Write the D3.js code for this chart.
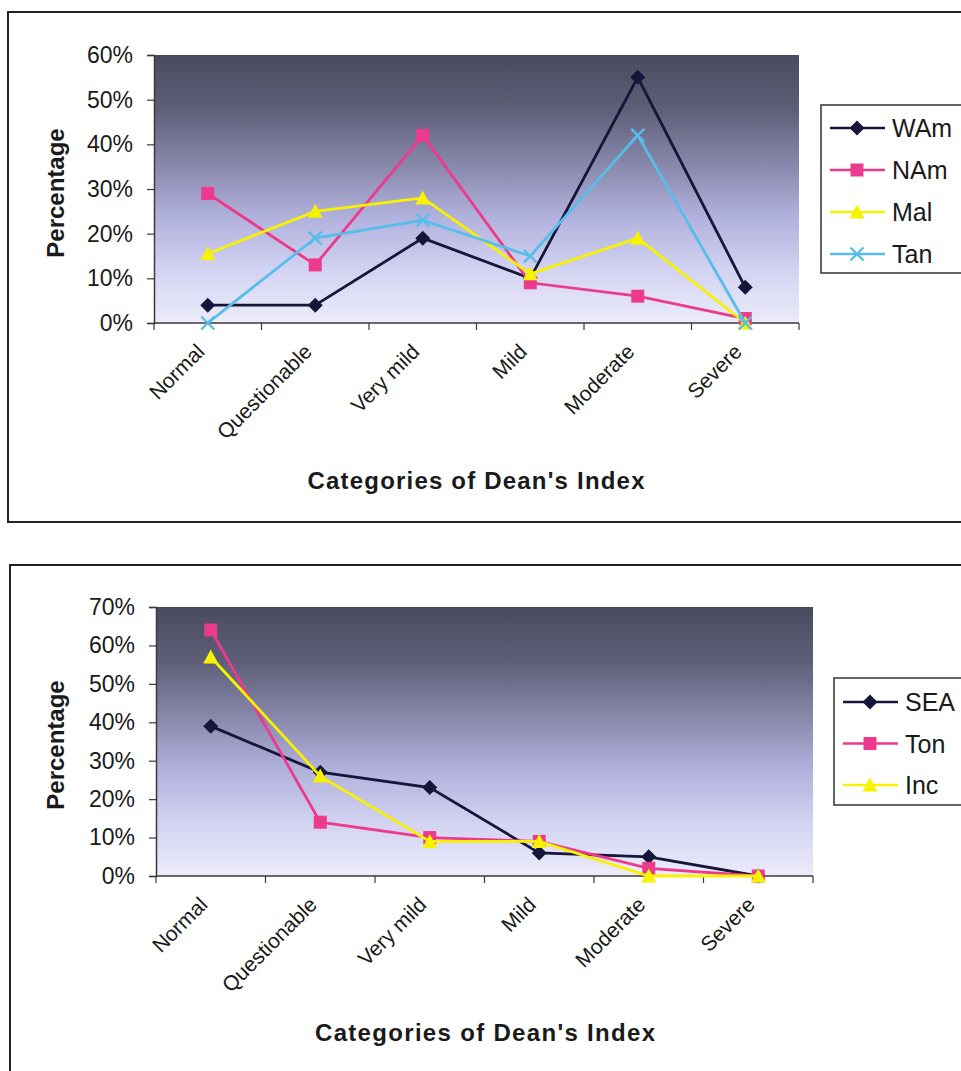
<!DOCTYPE html>
<html>
<head>
<meta charset="utf-8">
<script src="https://cdn.jsdelivr.net/npm/d3@7"></script>
<style>
  html, body { margin: 0; padding: 0; background: #ffffff; }
  svg { display: block; }
  text { font-family: "Liberation Sans", Arial, sans-serif; fill: #1a1a1a; }
</style>
</head>
<body>
<svg id="chart" width="961" height="1071"></svg>
<script>
// Categories of Dean's Index (shared by both panels)
const categories = ["Normal", "Questionable", "Very mild", "Mild", "Moderate", "Severe"];

// Upper panel: percentage of each group per category
const seriesTopNames = ["WAm", "NAm", "Mal", "Tan"];
const wAm = [4, 4, 19, 10, 55, 8];
const nAm = [29, 13, 42, 9, 6, 1];
const mal = [15.5, 25, 28, 11, 19, 0];
const tan = [0, 19, 23, 15, 42, 0];
const topTicks = [0, 10, 20, 30, 40, 50, 60];

// Lower panel
const seriesBottomNames = ["SEA", "Ton", "Inc"];
const sea = [39, 27, 23, 6, 5, 0];
const ton = [64, 14, 10, 9, 2, 0];
const inc = [57, 26, 9, 9, 0, 0];
const bottomTicks = [0, 10, 20, 30, 40, 50, 60, 70];

const xTitle = "Categories of Dean's Index";
const yTitle = "Percentage";

// Series styling
const styles = {
  WAm: { color: "#15163a", marker: "diamond" },
  NAm: { color: "#ec3a8c", marker: "square" },
  Mal: { color: "#f7f200", marker: "triangle" },
  Tan: { color: "#58bde9", marker: "cross" },
  SEA: { color: "#15163a", marker: "diamond" },
  Ton: { color: "#ec3a8c", marker: "square" },
  Inc: { color: "#f7f200", marker: "triangle" }
};

const svg = d3.select("#chart");
const defs = svg.append("defs");

// Plot-area fill: dark slate at the top fading to pale lavender
function addGradient(id) {
  const g = defs.append("linearGradient")
    .attr("id", id).attr("x1", 0).attr("y1", 0).attr("x2", 0).attr("y2", 1);
  [[0, "#4a4a5f"], [0.2, "#5e5e78"], [0.42, "#8a8aae"], [0.6, "#b0b0dc"],
   [0.8, "#d2d2f2"], [1, "#ececfa"]].forEach(([o, c]) =>
    g.append("stop").attr("offset", o).attr("stop-color", c));
}
addGradient("plotFillTop");
addGradient("plotFillBottom");

function markerPath(type) {
  switch (type) {
    case "diamond": return "M0,-7.5L7.5,0L0,7.5L-7.5,0Z";
    case "square": return "M-6.5,-6.5H6.5V6.5H-6.5Z";
    case "triangle": return "M0,-7.5L7.5,6.5H-7.5Z";
    case "cross": return "M-6.5,-6.5L6.5,6.5M6.5,-6.5L-6.5,6.5";
  }
}

function drawMarker(sel, type, color) {
  const p = sel.append("path").attr("d", markerPath(type));
  if (type === "cross") {
    p.attr("fill", "none").attr("stroke", color).attr("stroke-width", 2.4);
  } else {
    p.attr("fill", color);
  }
}

function drawPanel(cfg) {
  const g = svg.append("g");

  // Outer frame of the chart (right edge runs off the page)
  g.append("rect")
    .attr("x", cfg.frame.x).attr("y", cfg.frame.y)
    .attr("width", cfg.frame.w).attr("height", cfg.frame.h)
    .attr("fill", "#ffffff").attr("stroke", "#222222").attr("stroke-width", 2);

  const p = cfg.plot;
  const x = d3.scaleBand().domain(categories).range([p.x0, p.x1]).padding(0);
  const y = d3.scaleLinear().domain([0, cfg.yMax]).range([p.y1, p.y0]);

  g.append("rect")
    .attr("x", p.x0).attr("y", p.y0)
    .attr("width", p.x1 - p.x0).attr("height", p.y1 - p.y0)
    .attr("fill", `url(#${cfg.gradient})`);

  // Y axis
  const yAxis = d3.axisLeft(y).tickValues(cfg.ticks)
    .tickFormat(d => d + "%").tickSize(7).tickPadding(14);
  const yg = g.append("g").attr("transform", `translate(${p.x0},0)`).call(yAxis);
  yg.select(".domain").attr("stroke", "#3a3a3a").attr("stroke-width", 1.5);
  yg.selectAll(".tick line").attr("stroke", "#3a3a3a").attr("stroke-width", 1.2);
  yg.selectAll(".tick text")
    .attr("font-size", 23).attr("fill", "#1a1a1a")
    .style("font-family", "'Liberation Sans', Arial, sans-serif");

  // X axis: ticks at category boundaries, labels rotated
  const xg = g.append("g").attr("transform", `translate(0,${p.y1})`);
  xg.append("line").attr("x1", p.x0).attr("x2", p.x1)
    .attr("stroke", "#3a3a3a").attr("stroke-width", 1.5);
  const bounds = categories.map(c => x(c)).concat([p.x1]);
  xg.selectAll("line.tk").data(bounds).join("line").attr("class", "tk")
    .attr("x1", d => d).attr("x2", d => d).attr("y1", 0).attr("y2", 7)
    .attr("stroke", "#3a3a3a").attr("stroke-width", 1.2);
  xg.selectAll("text.cat").data(categories).join("text").attr("class", "cat")
    .attr("transform", d => `translate(${x(d) + x.bandwidth() / 2 - 2},${30}) rotate(-45)`)
    .attr("text-anchor", "end").attr("font-size", 21).attr("fill", "#1a1a1a")
    .text(d => d);

  // Series lines and markers
  const line = d3.line()
    .x((d, i) => x(categories[i]) + x.bandwidth() / 2)
    .y(d => y(d));
  cfg.series.forEach(s => {
    const st = styles[s.name];
    g.append("path").datum(s.values)
      .attr("d", line).attr("fill", "none")
      .attr("stroke", st.color).attr("stroke-width", 2.8)
      .attr("stroke-linejoin", "miter");
    s.values.forEach((v, i) => {
      const m = g.append("g")
        .attr("transform", `translate(${x(categories[i]) + x.bandwidth() / 2},${y(v)})`);
      drawMarker(m, st.marker, st.color);
    });
  });

  // Axis titles
  g.append("text")
    .attr("transform", `translate(${cfg.yTitle.x},${cfg.yTitle.y}) rotate(-90)`)
    .attr("text-anchor", "middle").attr("dominant-baseline", "central")
    .attr("font-size", 24).attr("font-weight", "bold")
    .text(yTitle);
  g.append("text")
    .attr("x", cfg.xTitle.x).attr("y", cfg.xTitle.y)
    .attr("text-anchor", "middle")
    .attr("font-size", 24).attr("font-weight", "bold")
    .attr("textLength", cfg.xTitle.len).attr("lengthAdjust", "spacing")
    .text(xTitle);

  // Legend (box runs off the right edge)
  const L = cfg.legend;
  const lg = g.append("g");
  lg.append("rect").attr("x", L.x).attr("y", L.y).attr("width", 200).attr("height", L.h)
    .attr("fill", "#ffffff").attr("stroke", "#333333").attr("stroke-width", 1.5);
  cfg.series.forEach((s, i) => {
    const st = styles[s.name];
    const cy = L.first + i * L.step;
    lg.append("line").attr("x1", L.x + 9).attr("x2", L.x + 64)
      .attr("y1", cy).attr("y2", cy)
      .attr("stroke", st.color).attr("stroke-width", 2.6);
    const m = lg.append("g").attr("transform", `translate(${L.x + 36},${cy})`);
    drawMarker(m, st.marker, st.color);
    lg.append("text").attr("x", L.x + 71).attr("y", cy)
      .attr("dominant-baseline", "central").attr("font-size", 25)
      .text(s.name);
  });
}

drawPanel({
  frame: { x: 8, y: 12, w: 1000, h: 510 },
  plot: { x0: 154, x1: 799, y0: 55, y1: 323 },
  yMax: 60,
  ticks: topTicks,
  gradient: "plotFillTop",
  series: [
    { name: seriesTopNames[0], values: wAm },
    { name: seriesTopNames[1], values: nAm },
    { name: seriesTopNames[2], values: mal },
    { name: seriesTopNames[3], values: tan }
  ],
  yTitle: { x: 55, y: 193 },
  xTitle: { x: 476, y: 489, len: 337 },
  legend: { x: 821, y: 105, h: 168, first: 128, step: 42 }
});

drawPanel({
  frame: { x: 10, y: 565, w: 1000, h: 600 },
  plot: { x0: 156, x1: 813, y0: 607, y1: 876 },
  yMax: 70,
  ticks: bottomTicks,
  gradient: "plotFillBottom",
  series: [
    { name: seriesBottomNames[0], values: sea },
    { name: seriesBottomNames[1], values: ton },
    { name: seriesBottomNames[2], values: inc }
  ],
  yTitle: { x: 55, y: 745 },
  xTitle: { x: 485, y: 1041, len: 340 },
  legend: { x: 834, y: 678, h: 127, first: 702, step: 41.5 }
});
</script>
</body>
</html>
